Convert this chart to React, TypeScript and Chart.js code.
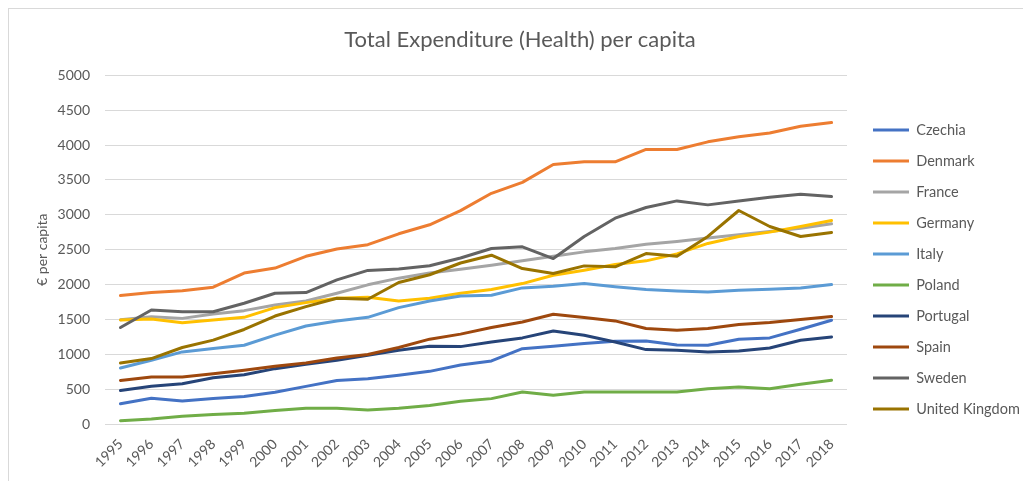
import React, { useEffect, useRef } from 'react';
import { Chart, registerables } from 'chart.js';

Chart.register(...registerables);

const years = ['1995','1996','1997','1998','1999','2000','2001','2002','2003','2004','2005','2006','2007','2008','2009','2010','2011','2012','2013','2014','2015','2016','2017','2018'];

const czechia = [290, 370, 330, 365, 395, 455, 540, 625, 650, 700, 755, 845, 904, 1081, 1115, 1153, 1187, 1191, 1134, 1129, 1215, 1235, 1359, 1488];
const denmark = [1842, 1885, 1910, 1962, 2165, 2237, 2405, 2511, 2572, 2728, 2857, 3060, 3309, 3466, 3723, 3761, 3761, 3938, 3938, 4047, 4119, 4175, 4271, 4323];
const france = [1495, 1540, 1515, 1578, 1626, 1708, 1765, 1876, 1996, 2092, 2165, 2220, 2278, 2340, 2407, 2469, 2517, 2579, 2619, 2667, 2714, 2762, 2809, 2871];
const germany = [1491, 1505, 1453, 1491, 1530, 1669, 1741, 1804, 1818, 1765, 1804, 1876, 1928, 2014, 2134, 2206, 2287, 2340, 2440, 2590, 2690, 2752, 2833, 2919];
const italy = [803, 914, 1034, 1082, 1130, 1275, 1405, 1477, 1530, 1669, 1765, 1837, 1847, 1952, 1976, 2014, 1967, 1928, 1909, 1895, 1919, 1933, 1952, 2000];
const poland = [48, 72, 110, 135, 154, 192, 226, 226, 202, 226, 265, 327, 364, 459, 411, 459, 459, 459, 459, 507, 531, 507, 569, 627];
const portugal = [481, 543, 577, 664, 707, 794, 856, 914, 986, 1058, 1116, 1110, 1177, 1235, 1335, 1273, 1177, 1067, 1058, 1034, 1048, 1091, 1201, 1249];
const spain = [625, 673, 673, 721, 770, 827, 875, 948, 996, 1097, 1217, 1289, 1383, 1464, 1574, 1526, 1479, 1369, 1345, 1369, 1426, 1455, 1498, 1541];
const sweden = [1385, 1635, 1611, 1611, 1732, 1876, 1885, 2068, 2203, 2222, 2270, 2381, 2517, 2541, 2373, 2690, 2952, 3105, 3200, 3143, 3200, 3252, 3295, 3262];
const unitedKingdom = [875, 938, 1097, 1203, 1356, 1549, 1684, 1804, 1790, 2030, 2141, 2309, 2421, 2230, 2158, 2268, 2254, 2445, 2407, 2690, 3062, 2833, 2690, 2748];

const seriesNames = ['Czechia', 'Denmark', 'France', 'Germany', 'Italy', 'Poland', 'Portugal', 'Spain', 'Sweden', 'United Kingdom'];
const seriesValues = [czechia, denmark, france, germany, italy, poland, portugal, spain, sweden, unitedKingdom];
const seriesColors = ['#4472C4', '#ED7D31', '#A5A5A5', '#FFC000', '#5B9BD5', '#70AD47', '#264478', '#9E480E', '#636363', '#997300'];

const chartTitle = 'Total Expenditure (Health) per capita';
const yTitle = '€ per capita';

const FONT = 'Lato, "Open Sans", sans-serif';
const TEXT = '#595959';

export default function App() {
  const ref = useRef<HTMLCanvasElement>(null);

  useEffect(() => {
    if (!ref.current) return;
    const legendPlace = {
      id: 'legendPlace',
      afterLayout(chart: any) {
        const l = chart.legend;
        if (!l) return;
        const w = l.right - l.left;
        const h = l.bottom - l.top;
        l.left = 847.5;
        l.right = 847.5 + w;
        l.top = 24.5;
        l.bottom = 24.5 + h;
      },
    };
    const chart = new Chart(ref.current, {
      type: 'line',
      data: {
        labels: years,
        datasets: seriesNames.map((name, i) => ({
          label: name,
          data: seriesValues[i],
          borderColor: seriesColors[i],
          backgroundColor: seriesColors[i],
          borderWidth: 3,
          pointRadius: 0,
          pointHoverRadius: 0,
          tension: 0,
          borderJoinStyle: 'round' as const,
          borderCapStyle: 'round' as const,
          fill: false,
          order: seriesNames.length - i,
        })),
      },
      options: {
        animation: false,
        responsive: true,
        maintainAspectRatio: false,
        layout: { padding: 0 },
        plugins: {
          tooltip: { enabled: false },
          title: {
            display: true,
            text: chartTitle,
            color: TEXT,
            font: { family: FONT, size: 22, weight: 'normal' },
            padding: { top: 18, bottom: 22 },
          },
          legend: {
            position: 'right',
            align: 'center',
            labels: {
              usePointStyle: true,
              pointStyle: 'line',
              pointStyleWidth: 36,
              padding: 16.5,
              color: TEXT,
              font: { family: FONT, size: 14.5 },
              sort: (a: any, b: any) => a.datasetIndex - b.datasetIndex,
            },
          },
        },
        scales: {
          x: {
            offset: true,
            grid: { display: false },
            border: { display: false },
            ticks: {
              color: TEXT,
              font: { family: FONT, size: 14 },
              maxRotation: 45,
              minRotation: 45,
              autoSkip: false,
              padding: 4,
            },
            afterFit: (s: any) => { s.height = 57; },
          },
          y: {
            min: 0,
            max: 5000,
            grid: { color: '#D9D9D9', lineWidth: 1, drawTicks: false },
            border: { display: false },
            ticks: {
              stepSize: 500,
              color: TEXT,
              font: { family: FONT, size: 14 },
              padding: 15,
              callback: (v: any) => String(v),
            },
            title: {
              display: true,
              text: yTitle,
              color: TEXT,
              font: { family: FONT, size: 14 },
              padding: { top: 25, bottom: 0 },
            },
            afterFit: (s: any) => { s.width = 96; },
          },
          yR: {
            position: 'right',
            display: true,
            grid: { display: false },
            border: { display: false },
            ticks: { display: false },
            afterFit: (s: any) => {
              const lw = s.chart.legend ? s.chart.legend.width : 0;
              s.width = Math.max(0, 184 - lw);
            },
          },
        },
      },
      plugins: [legendPlace],
    } as any);
    return () => chart.destroy();
  }, []);

  return (
    <div
      style={{
        position: 'relative',
        width: 1023,
        height: 473,
        boxSizing: 'border-box',
        borderTop: '1px solid #D9D9D9',
        borderLeft: '1px solid #D9D9D9',
        background: '#fff',
      }}
    >
      <div style={{ position: 'relative', width: 1022, height: 472 }}>
        <canvas ref={ref} />
      </div>
    </div>
  );
}
